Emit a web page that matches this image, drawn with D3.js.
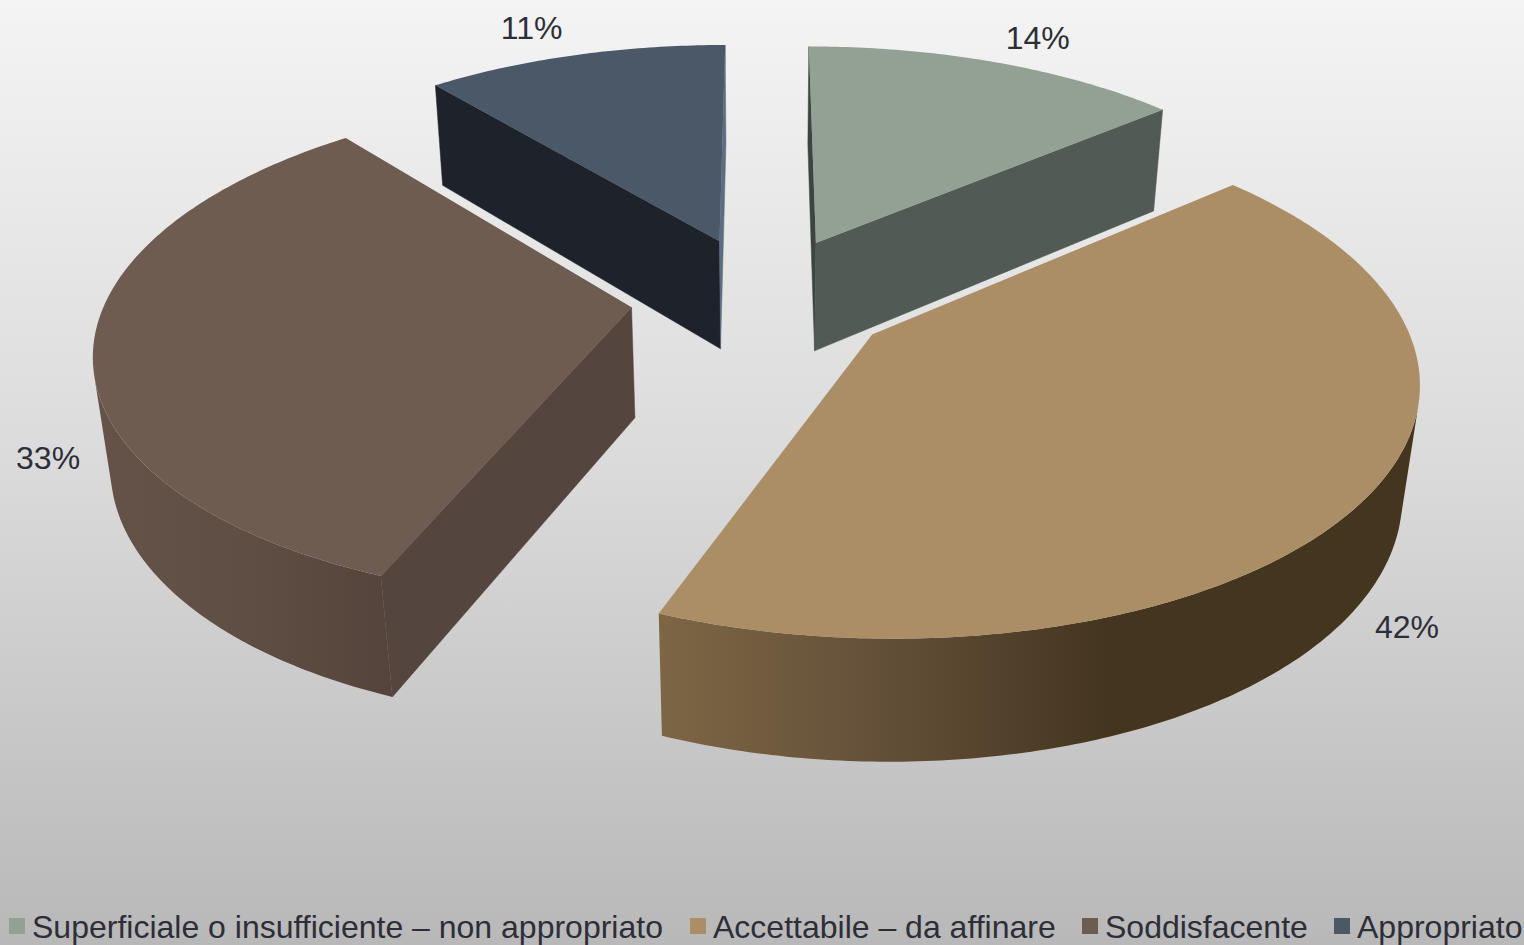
<!DOCTYPE html>
<html><head><meta charset="utf-8">
<script src="https://cdn.jsdelivr.net/npm/d3@7/dist/d3.min.js"></script>
<style>html,body{margin:0;padding:0;background:#fff;overflow:hidden}svg{display:block}text{font-family:"Liberation Sans",Arial,sans-serif;fill:#2e2e38}</style>
</head><body><div id="c"></div>
<script>
const categories = ["Superficiale o insufficiente – non appropriato","Accettabile – da affinare","Soddisfacente","Appropriato"];
const values = [13.8,42.2,33,11];
const topColors = ["#93a094","#ab8e66","#6f5c50","#4a5868"];
const legendX = [9,690,1082,1334];

const W=1524,H=945;
const sideEnd=["#515a54",null,null,"#5d6d80"], sideStart=["#3d4540",null,"#54453f","#1e232b"];
const wallStops=[[],[[660,"#7c6644"],[870,"#65513a"],[1110,"#44351f"],[1420,"#44351f"]],[[95,"#655349"],[250,"#5f4e44"],[390,"#54443b"]],[]];
const drawOrder=[3,0,2,1];
const labelR=[1.172,1.26,1.132,1.19], labelShift=[1.75,14.45,-20.5,-2.3];

// perspective camera
const k=.162,a=540,b=1590,c=158,m=.027,yh=-1248,cx=762.5,Y0=-.178,explX=.251,explY=.255;
function project(X,Y,z){const w=1-k*(Y+Y0)+m*z;return [cx+a*X/w,yh+(b+c*z)/w];}
function pt(o,r,t,z){return project(o[0]+r*Math.sin(t),o[1]-r*Math.cos(t),z);}

const svg=d3.select("#c").append("svg").attr("width",W).attr("height",H);
const defs=svg.append("defs");
const bg=defs.append("linearGradient").attr("id","bg").attr("x1",0).attr("x2",0).attr("y1",0).attr("y2",1);
[[0,"#f4f4f4"],[.5,"#dadada"],[1,"#b8b8b8"]].forEach(s=>bg.append("stop").attr("offset",s[0]).attr("stop-color",s[1]));
svg.append("rect").attr("width",W).attr("height",H).attr("fill","url(#bg)");
wallStops.forEach((st,i)=>{ if(!st.length)return;
  const x=d3.scaleLinear().domain([st[0][0],st[st.length-1][0]]).range([0,1]);
  const g=defs.append("linearGradient").attr("id","wall"+i).attr("gradientUnits","userSpaceOnUse")
    .attr("x1",st[0][0]).attr("x2",st[st.length-1][0]).attr("y1",0).attr("y2",0);
  st.forEach(s=>g.append("stop").attr("offset",x(s[0])).attr("stop-color",s[1]));
});

const arcs=d3.pie().sort(null).value(d=>d)(values);
const line=d3.line();
const cross=(p,q,r)=>(q[0]-p[0])*(r[1]-q[1])-(q[1]-p[1])*(r[0]-q[0]);

drawOrder.forEach(i=>{
  const d=arcs[i], bis=(d.startAngle+d.endAngle)/2;
  const o=[explX*Math.sin(bis),-explY*Math.cos(bis)];
  const n=Math.ceil((d.endAngle-d.startAngle)*80);
  const ang=d3.scaleLinear().domain([0,n]).range([d.startAngle,d.endAngle]);
  const ts=d3.range(n+1).map(ang);
  const g=svg.append("g");
  // radial faces
  [[d.startAngle,-1,sideStart[i]],[d.endAngle,1,sideEnd[i]]].forEach(([t,sg,col])=>{
    const A=project(o[0],o[1],0),R=pt(o,1,t,0),Rb=pt(o,1,t,1),Ab=project(o[0],o[1],1);
    if(col && cross(A,R,Rb)*sg>0) g.append("path").attr("d",line([A,R,Rb,Ab])+"Z").attr("fill",col).attr("stroke",col).attr("stroke-width",.5);
  });
  // outer wall, only where it faces the viewer
  let run=[];
  const flush=()=>{ if(run.length>1){
      const poly=run.map(t=>pt(o,1,t,0)).concat(run.slice().reverse().map(t=>pt(o,1,t,1)));
      g.append("path").attr("d",line(poly)+"Z").attr("fill",wallStops[i].length?`url(#wall${i})`:"#444");
    } run=[]; };
  ts.slice(0,-1).forEach((t,j)=>{
    const p=pt(o,1,t,0),q=pt(o,1,ts[j+1],0),r=pt(o,1,ts[j+1],1);
    if(cross(p,q,r)<0 ){ run.push(t); if(j===n-1) run.push(ts[j+1]); }
    else { if(run.length) run.push(t); flush(); }
  });
  flush();
  // top
  const top=[project(o[0],o[1],0)].concat(ts.map(t=>pt(o,1,t,0)));
  g.append("path").attr("d",line(top)+"Z").attr("fill",topColors[i]);
});

// data labels
arcs.forEach((d,i)=>{
  const bis=(d.startAngle+d.endAngle)/2, o=[explX*Math.sin(bis),-explY*Math.cos(bis)];
  const p=pt(o,labelR[i],bis+labelShift[i]*Math.PI/180,0);
  svg.append("text").attr("x",p[0]).attr("y",p[1]+11).attr("text-anchor","middle")
    .attr("font-size",32).text(Math.round(d.value)+"%");
});

// legend
categories.forEach((t,i)=>{
  svg.append("rect").attr("x",legendX[i]).attr("y",918).attr("width",16).attr("height",16).attr("fill",topColors[i]);
  svg.append("text").attr("x",legendX[i]+23).attr("y",938).attr("font-size",32).text(t);
});
</script></body></html>
